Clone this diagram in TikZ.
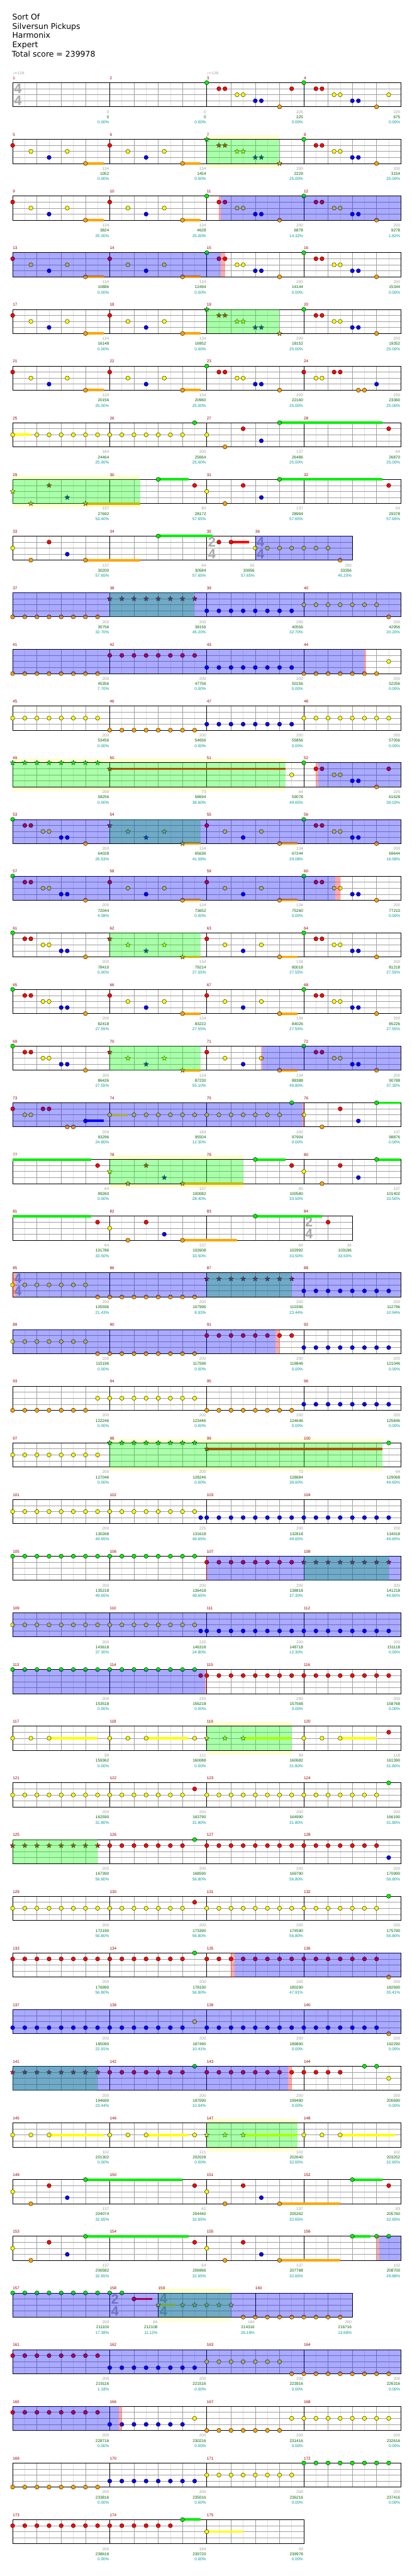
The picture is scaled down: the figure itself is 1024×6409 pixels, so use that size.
\documentclass[tikz,border=0pt]{standalone}
\usepackage{fontspec}
\usetikzlibrary{shapes.geometric}
\newfontfamily\numfont{Liberation Sans}
\newfontfamily\titfont{DejaVu Sans}
\newfontfamily\tsfont{Liberation Sans}
\definecolor{ln0}{RGB}{0,240,0}
\definecolor{ln1}{RGB}{255,0,0}
\definecolor{ln2}{RGB}{255,255,0}
\definecolor{ln3}{RGB}{0,0,255}
\definecolor{ln4}{RGB}{255,165,0}
\definecolor{spg}{RGB}{0,255,0}
\definecolor{bandc}{RGB}{255,255,208}
\definecolor{mnumc}{RGB}{153,0,0}
\definecolor{gnumc}{RGB}{160,160,160}
\definecolor{snumc}{RGB}{0,102,0}
\definecolor{pnumc}{RGB}{0,153,153}
\definecolor{gridl}{RGB}{225,225,225}
\definecolor{gridb}{RGB}{160,160,160}
\definecolor{tsc}{RGB}{170,170,170}
\tikzset{
 atrow/.style={shift={(31.5pt,{-205.7pt-141pt*(#1-1)})},x=15.0875pt,y=-15pt},
 nfont/.style={font=\numfont\fontsize{10}{12}\selectfont},
 mnum/.style={nfont,anchor=base west,inner sep=0pt,text=mnumc},
 gnum/.style={nfont,anchor=base east,inner sep=0pt,text=gnumc,xshift=-1.5pt},
 snum/.style={nfont,anchor=base east,inner sep=0pt,text=snumc,xshift=-1.5pt},
 pnum/.style={nfont,anchor=base east,inner sep=0pt,text=pnumc,xshift=-1.5pt},
 tempo/.style={anchor=base west,inner sep=0pt,text=gnumc,font=\titfont\fontsize{9}{10}\selectfont},
 tsig/.style={inner sep=0pt,text=tsc,font=\tsfont\bfseries\fontsize{34}{34}\selectfont},
 notec/.style={draw=black,line width=.6pt},
 starn/.style={star,star points=5,star point ratio=2.4,minimum size=13pt,inner sep=0pt,draw=black,line width=.5pt},
 titl/.style={anchor=base west,inner sep=0pt,font=\titfont\fontsize{19.5}{23}\selectfont},
}
\newcommand\stf[2]{%
 \fill[white] (0,0) rectangle (#1,4);
 \pgfmathtruncatemacro\se{#1}%
 \foreach \q in {2,4,...,\se}{\draw[gridl,line width=.8pt] (\q,0) -- (\q,4);}
 \foreach \q in {4,8,...,\se}{\draw[gridb,line width=.8pt] (\q,0) -- (\q,4);}
 \foreach \k in {1,2,3}{\draw[gridb,line width=1pt] (0,\k) -- (#1,\k);}
 \foreach \s/\m in {#2}{\draw[black,line width=.9pt] (\s,0) -- (\s,4);\node[mnum] at ([yshift=8pt]\s,0) {\m};}
 \draw[black,line width=1.3pt] (0,0) rectangle (#1,4);
}
\newcommand\stdstaff[1]{\pgfmathtruncatemacro\mA{4*#1-3}\pgfmathtruncatemacro\mB{4*#1-2}\pgfmathtruncatemacro\mC{4*#1-1}\pgfmathtruncatemacro\mD{4*#1}\stf{64}{0/\mA,16/\mB,32/\mC,48/\mD}}
\newcommand\nts[1]{\foreach \px/\lv in {#1}{\filldraw[fill=ln\lv,notec] (\px,\lv) circle[radius=5.2pt];}}
\newcommand\sts[1]{\foreach \px/\lv in {#1}{\node[starn,fill=ln\lv] at (\px,\lv) {};}}
\newcommand\nrun[3]{\pgfmathtruncatemacro\rb{#1+2}\foreach \px in {#1,\rb,...,#2}{\filldraw[fill=ln#3,notec] (\px,#3) circle[radius=5.2pt];}}
\newcommand\srun[3]{\pgfmathtruncatemacro\rb{#1+2}\foreach \px in {#1,\rb,...,#2}{\node[starn,fill=ln#3] at (\px,#3) {};}}
\newcommand\sus[3]{\draw[line width=6pt,ln#3] (#1,#3) -- (#2,#3);}
\newcommand\odr[2]{\fill[ln3,opacity=.333] (#1,0) rectangle (#2,4);}
\newcommand\spr[2]{\fill[spg,opacity=.333] (#1,0) rectangle (#2,4);}
\newcommand\mkr[2]{\fill[ln1,opacity=.333] (#1,0) rectangle (#2,4);}
\newcommand\bnd[2]{\fill[bandc] (#1,-0.7) rectangle (#2,4.7);}
\newcommand\tsg[3]{\node[tsig] at ([xshift=13pt]#1,1) {#2};\node[tsig] at ([xshift=13pt]#1,3) {#3};}
\newcommand\scr[1]{\foreach \e/\ga/\gb/\gc in {#1}{\node[gnum] at ([yshift=-76.1pt]\e,0) {\ga};\node[snum] at ([yshift=-89.1pt]\e,0) {\gb};\node[pnum] at ([yshift=-102.2pt]\e,0) {\gc\%};}}
\newcommand\patA[1]{\sus{#1+12}{#1+15}{4}\nts{#1/1,#1+3/2,#1+6/3,#1+9/2,#1+12/4}}
\newcommand\patAs[1]{\sus{#1+12}{#1+15}{4}\sts{#1/1,#1+3/2,#1+6/3,#1+9/2,#1+12/4}}
\newcommand\patB[1]{\nts{#1/0,#1+2/1,#1+3/1,#1+5/2,#1+6/2,#1+8/3,#1+9/3,#1+12/4}}
\newcommand\patBs[1]{\sts{#1/0,#1+2/1,#1+3/1,#1+5/2,#1+6/2,#1+8/3,#1+9/3,#1+12/4}}
\begin{document}
\begin{tikzpicture}
\useasboundingbox (0pt,0pt) rectangle (1024pt,-6409pt);
\fill[white] (0pt,0pt) rectangle (1024pt,-6409pt);
\node[titl] (t1) at (30.5pt,-48.8pt) {Sort Of};
\node[titl] (t2) at (30.5pt,-72.1pt) {Silversun Pickups};
\node[titl] (t3) at (30.5pt,-95.4pt) {Harmonix};
\node[titl] (t4) at (30.5pt,-118.8pt) {Expert};
\node[titl] (t5) at (29.5pt,-142.1pt) {Total score = 239978};
% row 1
\begin{scope}[atrow=1]
\stdstaff{1}\tsg{0}{4}{4}
\node[tempo] at ([yshift=21pt]0,0) {♩=126};
\node[tempo] at ([yshift=21pt]32,0) {♩=128};
\patB{32}\nts{46/1}\patB{48}\nts{62/2}
\scr{16/0/0/0.00,32/0/0/0.00,48/225/225/0.00,64/225/675/0.00}
\end{scope}
\begin{scope}[atrow=2]
\bnd{32}{44}\stdstaff{2}\patA{0}\patA{16}\patBs{32}\patB{48}\spr{32}{44}
\scr{16/134/1052/0.00,32/134/1454/0.00,48/200/2229/25.00,64/200/3154/25.00}
\end{scope}
\begin{scope}[atrow=3]
\stdstaff{3}\patA{0}\patA{16}\patB{32}\patB{48}\mkr{34}{34.3}\odr{34.3}{64}
\scr{16/134/3824/25.00,32/134/4628/25.00,48/200/6878/14.32,64/200/9278/1.82}
\end{scope}
\begin{scope}[atrow=4]
\stdstaff{4}\patA{0}\patA{16}\patB{32}\patB{48}\odr{0}{34.3}\mkr{34.3}{35}
\scr{16/134/10886/0.00,32/134/12494/0.00,48/200/14144/0.00,64/200/15344/0.00}
\end{scope}
\begin{scope}[atrow=5]
\stdstaff{5}\patA{0}\patA{16}\patBs{32}\patB{48}\spr{32}{44}
\scr{16/134/16148/0.00,32/134/16952/0.00,48/200/18152/25.00,64/200/19352/25.00}
\end{scope}
\begin{scope}[atrow=6]
\stdstaff{6}\patA{0}\patA{16}\patB{32}\nts{48/1,50/2,51/2,53/1,54/1,57/4,58/4,60/3}
\scr{16/134/20156/25.00,32/134/20960/25.00,48/200/22160/25.00,64/200/23360/25.00}
\end{scope}
\begin{scope}[atrow=7]
\stdstaff{7}\sus{0}{3}{2}\sus{44}{61}{0}
\nts{0/2,30/0,32/2,35/4,38/1,41/3,44/0,62/1}\nrun{4}{28}{2}
\scr{16/184/24464/25.00,32/200/25664/25.00,48/137/26486/25.00,64/64/26870/25.00}
\end{scope}
\begin{scope}[atrow=8]
\bnd{0}{21}\stdstaff{8}\sus{12}{21}{4}\sus{24}{29}{0}\sus{44}{61}{0}
\sts{0/2,3/4,6/1,9/3,12/4}\nts{24/0,30/1,32/2,35/4,38/1,41/3,44/0,62/1}
\spr{0}{21}
\scr{16/137/27692/53.40,32/80/28172/57.65,48/137/28994/57.65,64/64/29378/57.65}
\end{scope}
\begin{scope}[atrow=9]
\stf{56}{0/33,16/34,32/35,40/36}\tsg{32}{2}{4}\tsg{40}{4}{4}
\sus{12}{21}{4}\sus{24}{33}{0}\sus{36}{39}{1}
\nts{0/2,3/4,6/1,9/3,12/4,24/0,34/1,36/1,40/2,54/4}\nrun{42}{52}{2}
\odr{40}{56}
\scr{16/137/30200/57.65,32/64/30584/57.65,40/62/30956/57.65,56/200/33356/45.20}
\end{scope}
\begin{scope}[atrow=10]
\stdstaff{10}\nrun{0}{14}{4}\srun{16}{30}{1}\nrun{32}{46}{3}\nrun{48}{60}{2}\nts{62/4}
\spr{16}{30}\odr{0}{64}
\scr{16/200/35756/32.70,32/200/38156/45.20,48/200/40556/32.70,64/200/42956/20.20}
\end{scope}
\begin{scope}[atrow=11]
\stdstaff{11}\nrun{0}{14}{4}\nrun{16}{30}{1}\nrun{32}{46}{3}\nrun{48}{60}{4}\nts{62/2}
\odr{0}{58}\mkr{58}{58.3}
\scr{16/200/45356/7.70,32/200/47756/0.00,48/200/50156/0.00,64/200/52256/0.00}
\end{scope}
\begin{scope}[atrow=12]
\stdstaff{12}\nrun{0}{14}{2}\nrun{16}{30}{4}\nrun{32}{46}{3}\nrun{48}{62}{2}
\scr{16/200/53456/0.00,32/200/54656/0.00,48/200/55856/0.00,64/200/57056/0.00}
\end{scope}
\begin{scope}[atrow=13]
\bnd{0}{45}\stdstaff{13}\sus{16}{45}{1}\srun{0}{14}{0}\sts{16/1}
\nts{46/2,48/0,50/1,51/1,53/2,54/2,56/3,57/3,60/4,62/1}
\spr{0}{45}\mkr{50}{50.4}\odr{50.4}{64}
\scr{16/200/58256/0.00,32/73/58694/38.60,48/64/59078/49.65,64/225/61628/39.03}
\end{scope}
\begin{scope}[atrow=14]
\stdstaff{14}\patB{0}\patAs{16}\patA{32}\patB{48}\spr{16}{31}\odr{0}{64}
\scr{16/200/64028/26.53,32/134/65636/41.58,48/134/67244/29.08,64/200/69644/16.58}
\end{scope}
\begin{scope}[atrow=15]
\stdstaff{15}\patB{0}\patA{16}\patA{32}\patB{48}\odr{0}{53.2}\mkr{53.2}{54}
\scr{16/200/72044/4.08,32/134/73652/0.00,48/134/75260/0.00,64/200/77210/0.00}
\end{scope}
\begin{scope}[atrow=16]
\stdstaff{16}\patB{0}\patAs{16}\patA{32}\patB{48}\spr{16}{31}
\scr{16/200/78410/0.00,32/134/79214/27.55,48/134/80018/27.55,64/200/81218/27.55}
\end{scope}
\begin{scope}[atrow=17]
\stdstaff{17}\patB{0}\patA{16}\patA{32}\patB{48}
\scr{16/200/82418/27.55,32/134/83222/27.55,48/134/84026/27.55,64/200/85226/27.55}
\end{scope}
\begin{scope}[atrow=18]
\stdstaff{18}\patB{0}\patAs{16}\patA{32}\patB{48}\spr{16}{31}\mkr{40.9}{41.15}\odr{41.15}{64}
\scr{16/200/86426/27.55,32/134/87230/55.10,48/134/88388/49.80,64/200/90788/37.30}
\end{scope}
\begin{scope}[atrow=19]
\stdstaff{19}\sus{12}{15}{3}\sus{16}{19}{2}\sus{60}{64}{0}
\nts{0/1,2/2,3/2,5/1,6/1,9/4,10/4,12/3,16/2,46/0,48/2,51/4,54/1,57/3,60/0}\nrun{20}{44}{2}
\odr{0}{47.76}\mkr{47.76}{48}
\scr{16/209/93296/24.80,32/184/95504/12.30,48/200/97904/0.00,64/137/98876/0.00}
\end{scope}
\begin{scope}[atrow=20]
\bnd{16}{38}\stdstaff{20}\sus{0}{13}{0}\sus{28}{38}{4}\sus{40}{45}{0}\sus{60}{64}{0}
\nts{14/1,40/0,46/1,48/2,51/4,54/1,57/3,60/0}\sts{16/2,19/4,22/1,25/3,28/4}
\spr{16}{38}
\scr{16/64/99260/0.00,32/137/100082/28.40,48/83/100580/33.50,64/137/101402/33.50}
\end{scope}
\begin{scope}[atrow=21]
\stf{56}{0/81,16/82,32/83,48/84}\tsg{48}{2}{4}
\sus{0}{13}{0}\sus{28}{37}{4}\sus{40}{51}{0}
\nts{14/1,16/2,19/4,22/1,25/3,28/4,40/0,52/1}
\scr{16/64/101786/33.50,32/137/102608/33.50,48/64/102992/33.50,56/34/103196/33.50}
\end{scope}
\begin{scope}[atrow=22]
\stdstaff{22}\tsg{0}{4}{4}\nts{0/2}\nrun{2}{12}{2}\nrun{14}{30}{4}\srun{32}{46}{1}\nrun{48}{62}{3}
\spr{32}{46}\mkr{0}{0.52}\odr{0.52}{64}
\scr{16/200/105596/21.43,32/200/107996/8.93,48/200/110396/23.44,64/200/112796/10.94}
\end{scope}
\begin{scope}[atrow=23]
\stdstaff{23}\nrun{0}{12}{2}\nrun{14}{30}{4}\nrun{32}{46}{1}\nrun{48}{62}{3}
\odr{0}{43.36}\mkr{43.36}{44}
\scr{16/200/115196/0.00,32/200/117596/0.00,48/200/119846/0.00,64/200/121046/0.00}
\end{scope}
\begin{scope}[atrow=24]
\stdstaff{24}\nrun{0}{12}{4}\nrun{14}{30}{2}\nrun{32}{46}{4}\nrun{48}{62}{3}
\scr{16/200/122246/0.00,32/200/123446/0.00,48/200/124646/0.00,64/200/125846/0.00}
\end{scope}
\begin{scope}[atrow=25]
\bnd{16}{61}\stdstaff{25}\nrun{0}{14}{2}\sus{32}{61}{1}\srun{16}{30}{0}\sts{32/1}\nts{62/0}
\spr{16}{61}
\scr{16/200/127046/0.00,32/200/128246/0.00,48/73/128684/38.60,64/64/129068/49.65}
\end{scope}
\begin{scope}[atrow=26]
\stdstaff{26}\nrun{0}{30}{2}\nts{31/3}\nrun{32}{62}{3}
\scr{16/200/130268/49.65,32/225/131618/49.65,48/200/132818/49.65,64/200/134018/49.65}
\end{scope}
\begin{scope}[atrow=27]
\stdstaff{27}\draw[red!70!black,line width=1.2pt] (32,0) -- (32,4);
\nrun{0}{30}{0}\nrun{32}{46}{1}\srun{48}{62}{1}
\spr{48}{62}\odr{32}{64}
\scr{16/200/135218/49.65,32/200/136418/49.65,48/200/138818/37.30,64/200/141218/49.80}
\end{scope}
\begin{scope}[atrow=28]
\stdstaff{28}\nrun{0}{30}{2}\nts{31/3}\nrun{32}{62}{3}\odr{0}{64}
\scr{16/200/143618/37.30,32/225/146318/24.80,48/200/148718/12.30,64/200/151118/0.00}
\end{scope}
\begin{scope}[atrow=29]
\stdstaff{29}\nrun{0}{30}{0}\nts{31/1}\nrun{32}{62}{1}\odr{0}{31.7}\mkr{31.7}{32}
\scr{16/200/153518/0.00,32/225/156218/0.00,48/200/157568/0.00,64/200/158768/0.00}
\end{scope}
\begin{scope}[atrow=30]
\bnd{32}{46}\stdstaff{30}\sus{6}{14}{2}\sus{22}{29}{2}\sus{38}{46}{2}\sus{54}{60}{2}
\nts{0/2,3/2,6/2,16/2,19/2,22/2,30/2,48/2,51/2,54/2,62/1}\sts{32/2,35/2,38/2}
\spr{32}{46}
\scr{16/99/159362/0.00,32/121/160088/0.00,48/99/160682/31.80,64/118/161390/31.80}
\end{scope}
\begin{scope}[atrow=31]
\stdstaff{31}\nrun{0}{28}{2}\nts{30/1,62/0}\nrun{32}{60}{2}
\scr{16/200/162590/31.80,32/200/163790/31.80,48/200/164990/31.80,64/200/166190/31.80}
\end{scope}
\begin{scope}[atrow=32]
\stdstaff{32}\srun{0}{14}{1}\nrun{16}{28}{1}\nts{30/0,62/3}\nrun{32}{60}{1}\spr{0}{14}
\scr{16/200/167390/56.80,32/200/168590/56.80,48/200/169790/56.80,64/200/170990/56.80}
\end{scope}
\begin{scope}[atrow=33]
\stdstaff{33}\nrun{0}{28}{2}\nts{30/1,62/0}\nrun{32}{60}{2}
\scr{16/200/172190/56.80,32/200/173390/56.80,48/200/174590/56.80,64/200/175790/56.80}
\end{scope}
\begin{scope}[atrow=34]
\stdstaff{34}\nrun{0}{28}{1}\nts{30/0,62/4}\nrun{32}{60}{1}\mkr{36}{36.57}\odr{36.57}{64}
\scr{16/200/176990/56.80,32/200/178190/56.80,48/200/180290/47.91,64/200/182690/35.41}
\end{scope}
\begin{scope}[atrow=35]
\stdstaff{35}\nrun{0}{28}{3}\nts{30/2,62/4}\nrun{32}{60}{3}\odr{0}{64}
\scr{16/200/185090/22.91,32/200/187490/10.41,48/200/189890/0.00,64/200/192290/0.00}
\end{scope}
\begin{scope}[atrow=36]
\stdstaff{36}\srun{0}{14}{1}\nrun{16}{28}{1}\nts{30/0,58/0,60/0,62/2}\nrun{32}{54}{1}
\spr{0}{14}\odr{0}{45.36}\mkr{45.36}{46}
\scr{16/200/194690/23.44,32/200/197090/10.94,48/200/199490/0.00,64/200/200690/0.00}
\end{scope}
\begin{scope}[atrow=37]
\bnd{32}{47}\stdstaff{37}\sus{6}{15}{2}\sus{22}{29}{2}\sus{38}{47}{2}\sus{54}{63}{2}
\nts{0/2,3/2,6/2,16/2,19/2,22/2,30/2,48/2,51/2,54/2}\sts{32/2,35/2,38/2}
\spr{32}{47}
\scr{16/102/201302/0.00,32/121/202028/0.00,48/102/202640/32.65,64/102/203252/32.65}
\end{scope}
\begin{scope}[atrow=38]
\stdstaff{38}\sus{12}{28}{0}\sus{44}{54}{4}\sus{56}{61}{0}
\nts{0/2,3/4,6/1,9/3,12/0,30/1,32/2,35/4,38/1,41/3,44/4,56/0,62/1}
\scr{16/137/204074/32.65,32/61/204440/32.65,48/137/205262/32.65,64/83/205760/32.65}
\end{scope}
\begin{scope}[atrow=39]
\stdstaff{39}\sus{12}{29}{0}\sus{44}{54}{4}\sus{56}{59}{0}
\nts{0/2,3/4,6/1,9/3,12/0,30/1,32/2,35/4,38/1,41/3,44/4,56/0,60/0,62/0}
\mkr{60}{60.4}\odr{60.4}{64}
\scr{16/137/206582/32.65,32/64/206966/32.65,48/137/207788/32.65,64/102/208700/29.88}
\end{scope}
\begin{scope}[atrow=40]
\bnd{24}{36}\stf{56}{0/157,16/158,24/159,40/160}\tsg{16}{2}{4}\tsg{24}{4}{4}
\sus{20}{23}{1}\sus{24}{27}{2}\nrun{0}{18}{0}\nts{20/1}\nrun{38}{54}{4}\sts{24/2,28/2,30/2,32/2,34/2,36/2}
\spr{24}{36}\odr{0}{56}
\scr{16/200/211100/17.38,24/84/212108/11.13,40/184/214316/26.18,56/200/216716/13.68}
\end{scope}
\begin{scope}[atrow=41]
\stdstaff{41}\nrun{0}{14}{1}\nrun{16}{30}{3}\nrun{32}{44}{2}\nrun{46}{62}{4}\odr{0}{64}
\scr{16/200/219116/1.18,32/200/221516/0.00,48/200/223916/0.00,64/200/226316/0.00}
\end{scope}
\begin{scope}[atrow=42]
\stdstaff{42}\nrun{0}{14}{1}\nrun{16}{28}{3}\nts{30/2}\nrun{32}{44}{4}\nrun{46}{62}{2}\odr{0}{17.5}\mkr{17.5}{18}
\scr{16/200/228716/0.00,32/200/230216/0.00,48/200/231416/0.00,64/200/232616/0.00}
\end{scope}
\begin{scope}[atrow=43]
\stdstaff{43}\nrun{0}{14}{4}\nrun{16}{30}{3}\nrun{32}{46}{2}\nrun{48}{62}{0}
\scr{16/200/233816/0.00,32/200/235016/0.00,48/200/236216/0.00,64/200/237416/0.00}
\end{scope}
\begin{scope}[atrow=44]
\stf{48}{0/173,16/174,32/175}\nrun{0}{26}{1}\sus{28}{31}{0}\sus{32}{38}{2}\nts{28/0,32/2}
\scr{16/200/238616/0.00,32/184/239720/0.00,48/43/239978/0.00}
\end{scope}
\end{tikzpicture}
\end{document}
